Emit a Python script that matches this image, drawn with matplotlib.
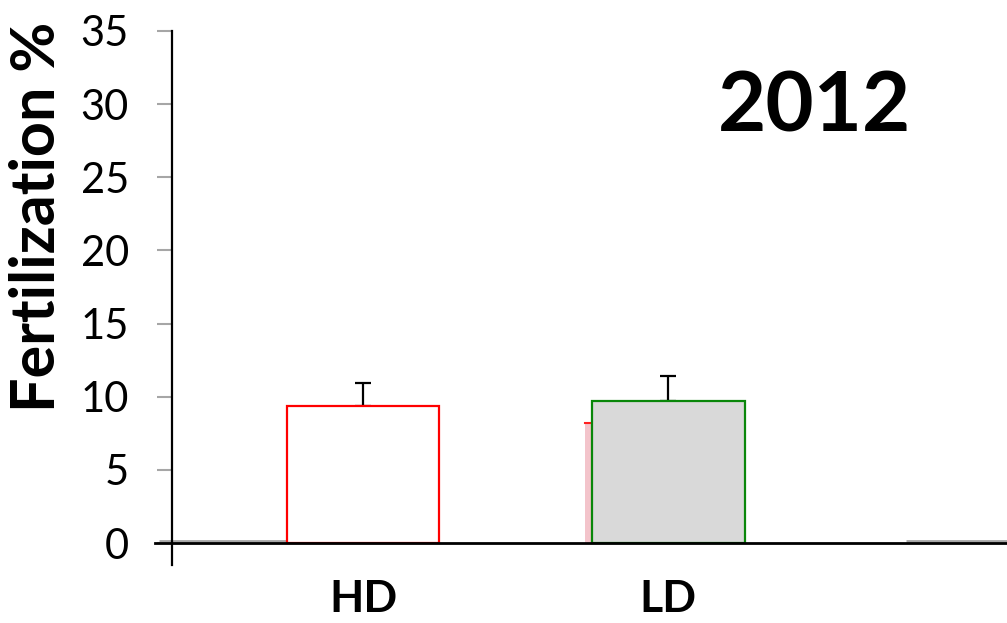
import numpy as np
import matplotlib.pyplot as plt

plt.rcParams['font.family'] = ['Lato', 'DejaVu Sans']

# fertilization by density treatment, 2012
groups = ["HD", "LD"]
fert_mean = [9.39, 9.73]
fert_se = [1.57, 1.68]
# value of the shaded series sitting just behind LD
shadow_mean = 8.22
year = "2012"

y_ticks = [0, 5, 10, 15, 20, 25, 30, 35]

fig = plt.figure(figsize=(10.07, 6.23), dpi=100)
ax = fig.add_axes([172 / 1007, 58 / 623, 835 / 1007, (592 - 58) / 623])

x = np.arange(1, len(groups) + 1)
width = 0.5

# shaded bar peeking out on the left of the LD bar
ax.bar(x[1] - 0.023, shadow_mean, width, color="#f3c4cb", edgecolor="none", zorder=1)
ax.plot([x[1] - 0.023 - width / 2, x[1] - width / 2], [shadow_mean, shadow_mean],
        color="#ff2020", lw=1.5, zorder=1)

ax.bar(x[0], fert_mean[0], width, color="white", edgecolor="#ff0000", linewidth=1.6, zorder=2)
ax.bar(x[1], fert_mean[1], width, color="#d9d9d9", edgecolor="#0a870a", linewidth=1.6, zorder=2)

# upper error bars only; the lower cap sits under the bar edge
ax.errorbar(x, fert_mean, yerr=[np.zeros(len(x)), fert_se], fmt="none",
            ecolor="black", elinewidth=1.6, capsize=6, capthick=1.6, zorder=1.9)

# gray baseline segments under the bars and at the empty third slot
for x0, x1 in [(0.33, x[0] + width / 2), (x[1] - width / 2, x[1] + width / 2), (2.78, 3.2)]:
    ax.plot([x0, x1], [0.12, 0.12], color="#a6a6a6", lw=2, zorder=1.5,
            solid_capstyle="butt", clip_on=False)

ax.axhline(0, xmin=-0.02, xmax=1, color="black", lw=2, clip_on=False, zorder=4)

ax.set_xlim(0.374, 3.11)
ax.set_ylim(-1.5, 35)
ax.set_yticks(y_ticks)
ax.set_yticklabels([str(t) for t in y_ticks], fontsize=30)
ax.tick_params(axis="y", direction="out", length=11, width=1.5, color="#a6a6a6", pad=20)

ax.set_xticks(x)
ax.set_xticklabels(groups, fontsize=32, fontweight="bold")
ax.tick_params(axis="x", length=0, pad=10)

for side in ["top", "right", "bottom"]:
    ax.spines[side].set_visible(False)
ax.spines["left"].set_color("black")
ax.spines["left"].set_linewidth(1.6)

fig.text(37 / 1007, 1 - 217 / 623, "Fertilization %", rotation=90, fontsize=44,
         fontweight="bold", ha="center", va="center")
fig.text(815 / 1007, 1 - 108 / 623, year, fontsize=60, fontweight="bold",
         ha="center", va="center")

fig.savefig("out.png", dpi=100)
